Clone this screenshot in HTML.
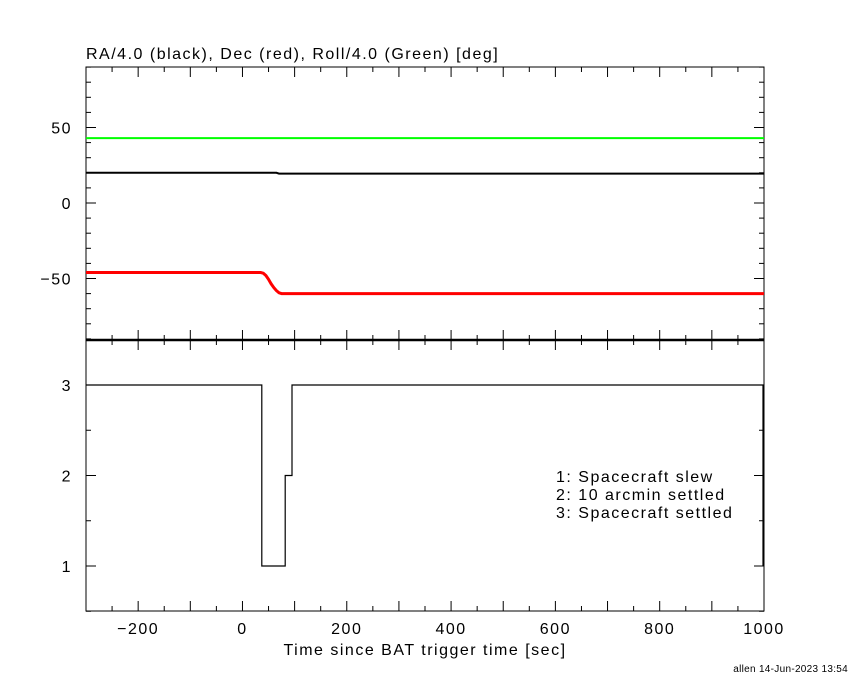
<!DOCTYPE html>
<html><head><meta charset="utf-8"><style>
body{margin:0;background:#fff;}
svg text{font-family:"Liberation Sans",sans-serif;font-size:16px;fill:#000;letter-spacing:1.5px;}
</style></head><body>
<svg id="c" width="850" height="680" xmlns="http://www.w3.org/2000/svg"></svg>
<script>
const xTicks=[-200,0,200,400,600,800,1000];
const topTicks=[-50,0,50];
const botTicks=[1,2,3];
const greenT=[-300,1000];const greenV=[43,43];
const blackT=[-300,65,70,1000];const blackV=[20,20,19.5,19.5];
const redT=[-300,35,40,45,50,55,60,65,70,75,80,1000];
const redV=[-46,-46,-46.5,-48,-50.5,-53.5,-56,-58,-59.5,-60,-60,-60];
const stepT=[-300,37,37,82,82,95,95,998,998];
const stepV=[3,3,1,1,2,2,3,3,1];
const legendLines=["1: Spacecraft slew","2: 10 arcmin settled","3: Spacecraft settled"];
const X0=86,X1=764,T0=67,T1=340,B1=611;
const sx=v=>X0+(v+300)/1300*(X1-X0);
const sy=v=>203-v*1.51;
const by=v=>385+(3-v)*90.5;
const svg=document.getElementById('c');
function el(t,a,p){const e=document.createElementNS('http://www.w3.org/2000/svg',t);for(const k in a)e.setAttribute(k,a[k]);(p||svg).appendChild(e);return e;}
function txt(x,y,s,anchor){const e=el('text',{x:x,y:y,'text-anchor':anchor||'start'});e.textContent=s;return e;}
const f=el('rect',{x:X0,y:T0,width:X1-X0,height:B1-T0,fill:'none',stroke:'#000','stroke-width':1});

const sep=el('line',{x1:X0,x2:X1,y1:T1,y2:T1,stroke:'#000','stroke-width':2.5});

for(let v=-300;v<=1000;v+=50){const x=sx(v);const L=(v%100===0)?10:5;
 [T0,T1,B1].forEach(y0=>{ if(y0!==T0) el('line',{x1:x,x2:x,y1:y0,y2:y0-L,stroke:'#000'}); if(y0!==B1) el('line',{x1:x,x2:x,y1:y0,y2:y0+L,stroke:'#000'});});}
xTicks.forEach(v=>{const t=txt(sx(v),634,v<0?'\u2212'+(-v):String(v),'middle');});
for(let v=-90;v<=90;v+=10){const y=sy(v);if(y<T0||y>T1)continue;const L=(v%50===0)?10:5;
 el('line',{x1:X0,x2:X0+L,y1:y,y2:y,stroke:'#000'});el('line',{x1:X1,x2:X1-L,y1:y,y2:y,stroke:'#000'});}
topTicks.forEach(v=>{const t=txt(72,sy(v)+6,v<0?'\u2212'+(-v):String(v),'end');});
for(let v=0.5;v<=3.5;v+=0.5){const y=by(v);const L=(v%1===0)?10:5;
 el('line',{x1:X0,x2:X0+L,y1:y,y2:y,stroke:'#000'});el('line',{x1:X1,x2:X1-L,y1:y,y2:y,stroke:'#000'});}
botTicks.forEach(v=>{const t=txt(72,by(v)+6,String(v),'end');});
function path(T,V,fy){return T.map((t,i)=>(i?'L':'M')+sx(t).toFixed(1)+' '+fy(V[i]).toFixed(1)).join(' ');}
const g=el('path',{d:path(greenT,greenV,sy),stroke:'#00ff00','stroke-width':2,fill:'none'});

const b=el('path',{d:path(blackT,blackV,sy),stroke:'#000','stroke-width':2,fill:'none'});

const r=el('path',{d:path(redT,redV,sy),stroke:'#ff0000','stroke-width':3,fill:'none'});

const s=el('path',{d:path(stepT,stepV,by),stroke:'#000','stroke-width':1.2,fill:'none'});

const tt=txt(86,59,'RA/4.0 (black), Dec (red), Roll/4.0 (Green) [deg]');

legendLines.forEach((l,i)=>{const t=txt(556,482+i*18,l);});
const xt=txt(425,655,'Time since BAT trigger time [sec]','middle');

const ft=txt(848,672,'allen 14-Jun-2023 13:54','end');ft.style.fontSize='10px';ft.style.letterSpacing='0.3px';

</script>
</body></html>
